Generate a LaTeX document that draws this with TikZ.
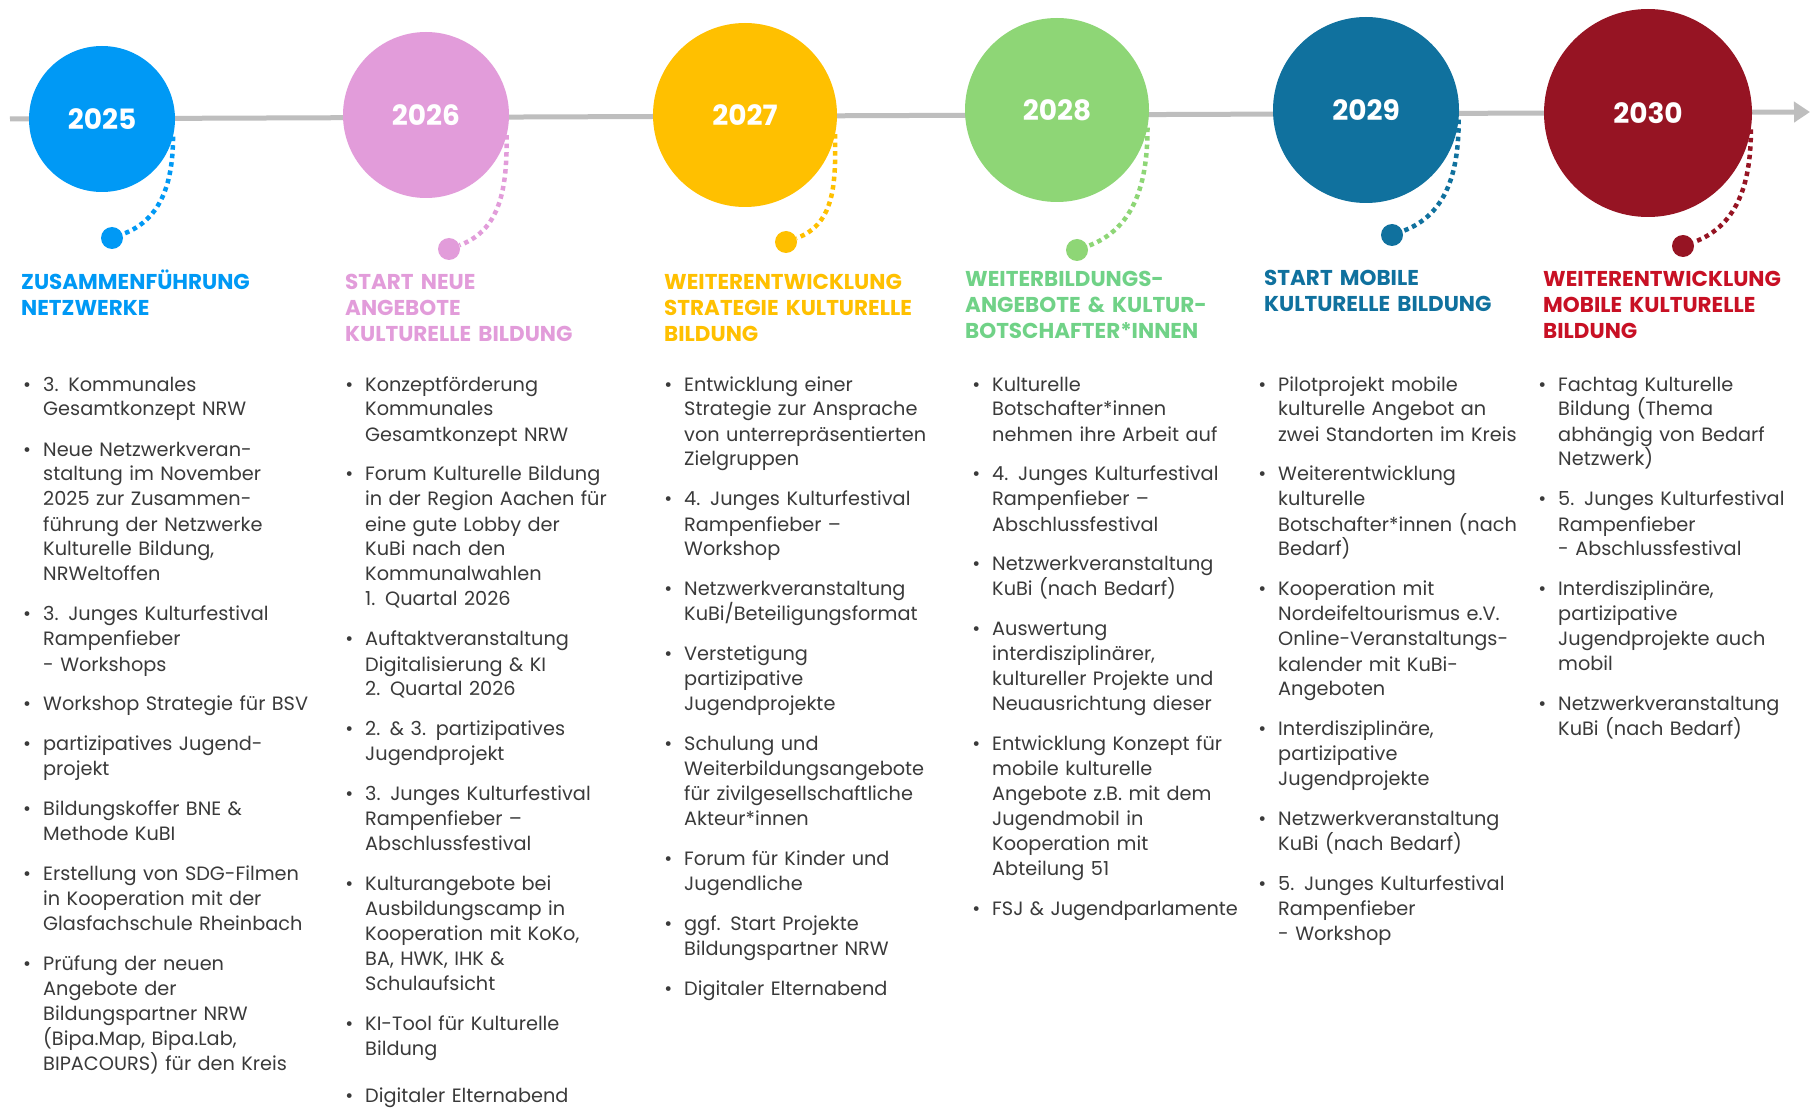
\documentclass[tikz,border=0pt]{standalone}
\usepackage{fontspec}
\setmainfont{Poppins}
\usetikzlibrary{arrows.meta}

\definecolor{c25}{RGB}{0,153,245}
\definecolor{c26}{RGB}{226,156,218}
\definecolor{c27}{RGB}{255,192,0}
\definecolor{c28}{RGB}{142,214,118}
\definecolor{h28}{RGB}{112,210,135}
\definecolor{c29}{RGB}{16,113,158}
\definecolor{c30}{RGB}{150,20,35}
\definecolor{h30}{RGB}{200,16,36}
\definecolor{txt}{RGB}{58,58,58}
\definecolor{tl}{RGB}{190,190,190}

% one bullet point of a column
\newcommand\itm[1]{\par\noindent\llap{\textbullet\hspace{12pt}}#1\par\vspace{15pt}}

\begin{document}
\begin{tikzpicture}[x=1pt,y=1pt]
   \tikzset{year/.style={circle, inner sep=0pt, text=white, font=\bfseries\fontsize{28}{28}\selectfont},
            dotend/.style={circle, inner sep=0pt, minimum size=22pt},
            dotline/.style={line width=4.5pt, dash pattern=on 4.5pt off 4pt},
            head/.style={anchor=base west, inner sep=0pt, text width=270pt, align=left, font=\bfseries\fontsize{21.5}{26}\selectfont},
            col/.style={anchor=base west, inner sep=0pt, text width=290pt, align=left, text=txt, font=\fontsize{19.3}{25}\selectfont}};

\useasboundingbox[fill=white] (0,0) rectangle (1810,-1115);

% timeline
\coordinate (tlstart) at (10,-119);
\coordinate (tlend) at (1810,-112);
\draw[tl, line width=5pt, -{Triangle[length=16pt,width=20pt]}] (tlstart) -- (tlend);

% years
\node[year, fill=c25, minimum size=146pt] (y25) at (102,-119) {2025};
\node[year, fill=c26, minimum size=166pt] (y26) at (426,-115) {2026};
\node[year, fill=c27, minimum size=184pt] (y27) at (745,-115) {2027};
\node[year, fill=c28, minimum size=184pt] (y28) at (1057,-110) {2028};
\node[year, fill=c29, minimum size=186pt] (y29) at (1366,-110) {2029};
\node[year, fill=c30, minimum size=208pt] (y30) at (1648,-113) {2030};

\node[dotend, fill=c25] (d25) at (112,-238) {};
\node[dotend, fill=c26] (d26) at (449,-249) {};
\node[dotend, fill=c27] (d27) at (786,-242) {};
\node[dotend, fill=c28] (d28) at (1077,-250) {};
\node[dotend, fill=c29] (d29) at (1392,-235) {};
\node[dotend, fill=c30] (d30) at (1683,-246) {};

\draw[dotline, c25] (y25.-14) to[out=-90,in=20] (d25);
\draw[dotline, c26] (y26.-14) to[out=-90,in=20] (d26);
\draw[dotline, c27] (y27.-12) to[out=-90,in=20] (d27);
\draw[dotline, c28] (y28.-11) to[out=-90,in=20] (d28);
\draw[dotline, c29] (y29.-6) to[out=-90,in=20] (d29);
\draw[dotline, c30] (y30.-9) to[out=-90,in=20] (d30);

% headings
\node[head, text=c25] (h25) at (21,-290) {ZUSAMMENFÜHRUNG\\NETZWERKE};
\node[head, text=c26] (h26) at (345,-290) {START NEUE\\ANGEBOTE\\KULTURELLE BILDUNG};
\node[head, text=c27] (h27) at (664,-290) {WEITERENTWICKLUNG\\STRATEGIE KULTURELLE\\BILDUNG};
\node[head, text=h28] (h28) at (965,-287) {WEITERBILDUNGS-\\ANGEBOTE \& KULTUR-\\BOTSCHAFTER*INNEN};
\node[head, text=c29] (h29) at (1264,-286) {START MOBILE\\KULTURELLE BILDUNG};
\node[head, text=h30] (h30) at (1543,-287) {WEITERENTWICKLUNG\\MOBILE KULTURELLE\\BILDUNG};

% columns
\node[col] (b25) at (43,-366) {%
\itm{3. Kommunales\\Gesamtkonzept NRW}
\itm{Neue Netzwerkveran-\\staltung im November\\2025 zur Zusammen-\\führung der Netzwerke\\Kulturelle Bildung,\\NRWeltoffen}
\itm{3. Junges Kulturfestival\\Rampenfieber\\- Workshops}
\itm{Workshop Strategie für BSV}
\itm{partizipatives Jugend-\\projekt}
\itm{Bildungskoffer BNE \&\\Methode KuBI}
\itm{Erstellung von SDG-Filmen\\in Kooperation mit der\\Glasfachschule Rheinbach}
\itm{Prüfung der neuen\\Angebote der\\Bildungspartner NRW\\(Bipa.Map, Bipa.Lab,\\BIPACOURS) für den Kreis}};

\node[col] (b26) at (365,-366) {%
\itm{Konzeptförderung\\Kommunales\\Gesamtkonzept NRW}
\itm{Forum Kulturelle Bildung\\in der Region Aachen für\\eine gute Lobby der\\KuBi nach den\\Kommunalwahlen\\1. Quartal 2026}
\itm{Auftaktveranstaltung\\Digitalisierung \& KI\\2. Quartal 2026}
\itm{2. \& 3. partizipatives\\Jugendprojekt}
\itm{3. Junges Kulturfestival\\Rampenfieber –\\Abschlussfestival}
\itm{Kulturangebote bei\\Ausbildungscamp in\\Kooperation mit KoKo,\\BA, HWK, IHK \&\\Schulaufsicht}
\itm{KI-Tool für Kulturelle\\Bildung}\vspace{7pt}
\itm{Digitaler Elternabend}};

\node[col] (b27) at (684,-366) {%
\itm{Entwicklung einer\\Strategie zur Ansprache\\von unterrepräsentierten\\Zielgruppen}
\itm{4. Junges Kulturfestival\\Rampenfieber –\\Workshop}
\itm{Netzwerkveranstaltung\\KuBi/Beteiligungsformat}
\itm{Verstetigung\\partizipative\\Jugendprojekte}
\itm{Schulung und\\Weiterbildungsangebote\\für zivilgesellschaftliche\\Akteur*innen}
\itm{Forum für Kinder und\\Jugendliche}
\itm{ggf. Start Projekte\\Bildungspartner NRW}
\itm{Digitaler Elternabend}};

\node[col] (b28) at (992,-366) {%
\itm{Kulturelle\\Botschafter*innen\\nehmen ihre Arbeit auf}
\itm{4. Junges Kulturfestival\\Rampenfieber –\\Abschlussfestival}
\itm{Netzwerkveranstaltung\\KuBi (nach Bedarf)}
\itm{Auswertung\\interdisziplinärer,\\kultureller Projekte und\\Neuausrichtung dieser}
\itm{Entwicklung Konzept für\\mobile kulturelle\\Angebote z.B. mit dem\\Jugendmobil in\\Kooperation mit\\Abteilung 51}
\itm{FSJ \& Jugendparlamente}};

\node[col] (b29) at (1278,-366) {%
\itm{Pilotprojekt mobile\\kulturelle Angebot an\\zwei Standorten im Kreis}
\itm{Weiterentwicklung\\kulturelle\\Botschafter*innen (nach\\Bedarf)}
\itm{Kooperation mit\\Nordeifeltourismus e.V.\\Online-Veranstaltungs-\\kalender mit KuBi-\\Angeboten}
\itm{Interdisziplinäre,\\partizipative\\Jugendprojekte}
\itm{Netzwerkveranstaltung\\KuBi (nach Bedarf)}
\itm{5. Junges Kulturfestival\\Rampenfieber\\- Workshop}};

\node[col] (b30) at (1558,-366) {%
\itm{Fachtag Kulturelle\\Bildung (Thema\\abhängig von Bedarf\\Netzwerk)}
\itm{5. Junges Kulturfestival\\Rampenfieber\\- Abschlussfestival}
\itm{Interdisziplinäre,\\partizipative\\Jugendprojekte auch\\mobil}
\itm{Netzwerkveranstaltung\\KuBi (nach Bedarf)}};

\end{tikzpicture}
\end{document}
